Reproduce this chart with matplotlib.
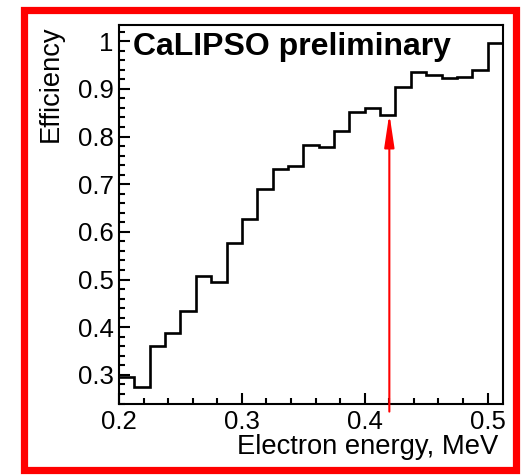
import numpy as np
import matplotlib
matplotlib.use("Agg")
import matplotlib.pyplot as plt
from matplotlib.patches import Rectangle
from matplotlib.ticker import MultipleLocator, FuncFormatter

plt.rcParams['font.family'] = ['Liberation Sans', 'DejaVu Sans']

# efficiency per energy bin (25 bins, 0.2 - 0.5125 MeV)
bin_lo = 0.2
bin_width = 0.0125
efficiency = [0.296, 0.275, 0.361, 0.388, 0.433, 0.508, 0.494, 0.576,
              0.627, 0.691, 0.731, 0.739, 0.782, 0.779, 0.812, 0.851,
              0.859, 0.846, 0.904, 0.935, 0.929, 0.922, 0.924, 0.939, 0.997]
edges = bin_lo + bin_width * np.arange(len(efficiency) + 1)

# threshold marker
arrow_x = 0.42
arrow_y0 = 0.223
arrow_y1 = 0.848

fig = plt.figure(figsize=(5.22, 4.76), dpi=100)
ax = fig.add_axes([0.228, 0.1513, 0.7356, 0.7962])

ax.stairs(efficiency, edges, baseline=None, color='black', linewidth=1.9)

ax.annotate('', xy=(arrow_x, arrow_y1), xytext=(arrow_x, arrow_y0),
            arrowprops=dict(arrowstyle='-|>,head_length=2.0,head_width=0.3',
                            color='red', lw=1.5, mutation_scale=10,
                            shrinkA=0, shrinkB=0),
            annotation_clip=False)

ax.set_xlim(edges[0], edges[-1])
ax.set_ylim(0.239, 1.034)

ax.xaxis.set_major_locator(MultipleLocator(0.1))
ax.xaxis.set_minor_locator(MultipleLocator(0.02))
ax.yaxis.set_major_locator(MultipleLocator(0.1))
ax.yaxis.set_minor_locator(MultipleLocator(0.02))
ax.yaxis.set_major_formatter(FuncFormatter(lambda v, p: '%g' % round(v, 3)))
ax.xaxis.set_major_formatter(FuncFormatter(lambda v, p: '%g' % round(v, 3)))

ax.tick_params(which='both', direction='in', top=False, right=False,
               labelsize=18.5, width=1.5)
ax.tick_params(which='major', length=8, pad=4)
ax.tick_params(which='minor', length=4)
for s in ax.spines.values():
    s.set_linewidth(1.5)

ax.set_xlabel('Electron energy, MeV', fontsize=19.7, loc='right')
ax.xaxis.set_label_coords(0.987, -0.08)
ax.set_ylabel('Efficiency', fontsize=19.7, loc='top')
ax.yaxis.set_label_coords(-0.145, 1.0)

ax.text(0.036, 0.921, 'CaLIPSO preliminary', transform=ax.transAxes,
        fontsize=23, fontweight='bold', va='baseline', ha='left')

fig.patches.append(Rectangle((23.5 / 522, 1 - 469.5 / 476), 492 / 522, 460 / 476,
                             transform=fig.transFigure, fill=False,
                             edgecolor='red', linewidth=5.2))

fig.savefig('out.png', dpi=100)
